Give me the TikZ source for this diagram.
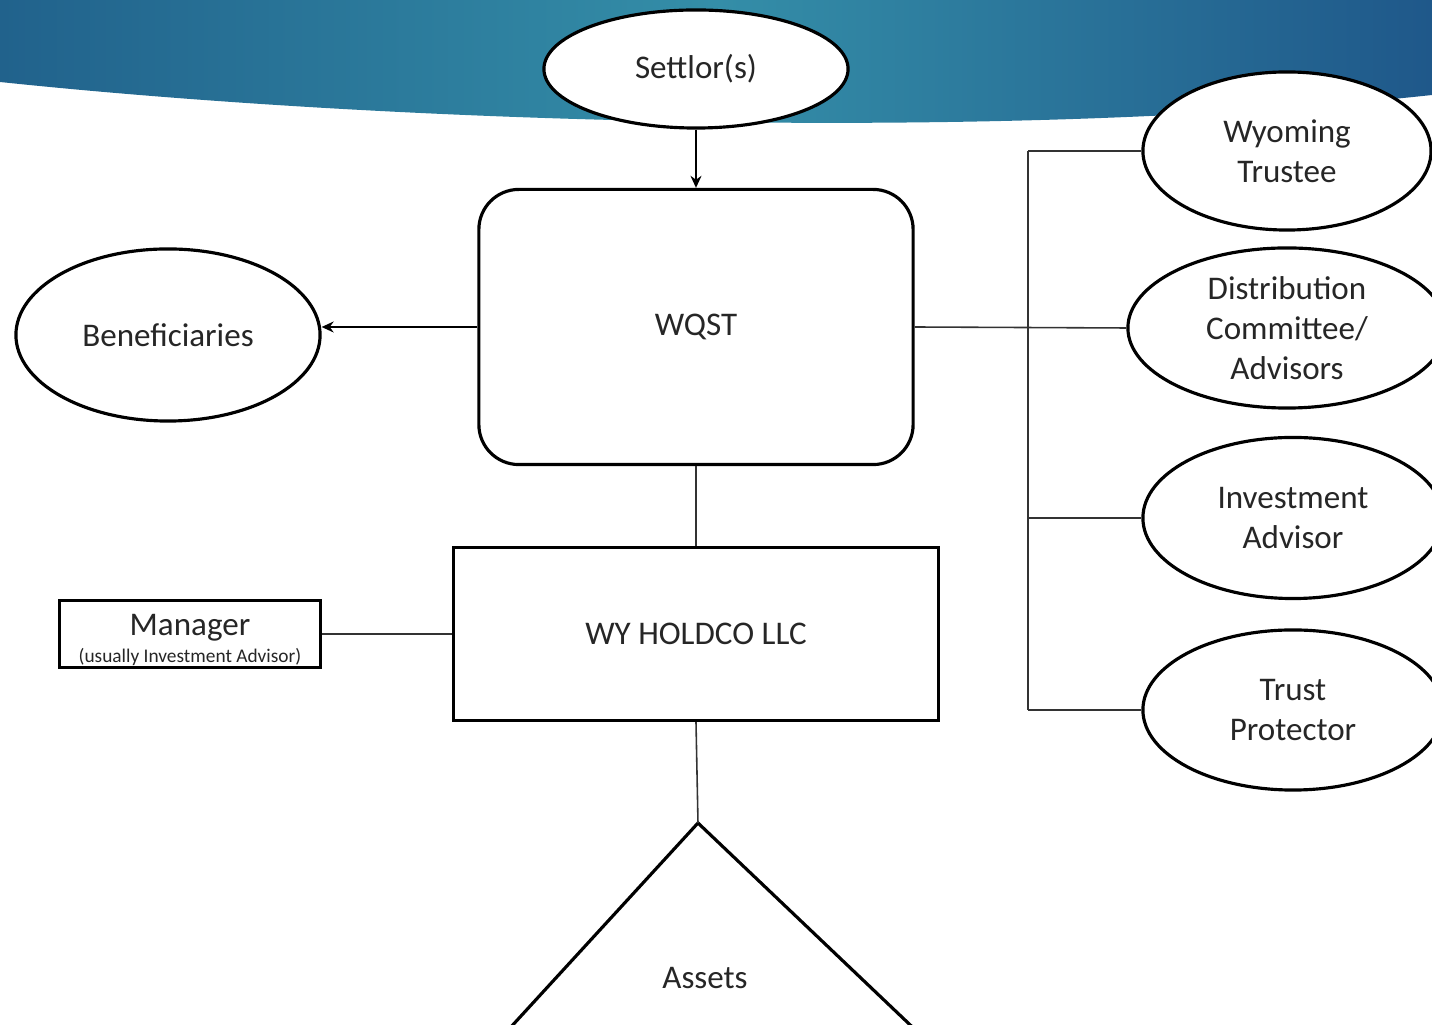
\documentclass[tikz,border=0pt]{standalone}
\usepackage{fontspec}
\setmainfont{Carlito}
\definecolor{bandleft}{RGB}{33, 98, 140}
\definecolor{bandmid}{RGB}{52, 142, 168}
\definecolor{bandright}{RGB}{31, 88, 138}
\definecolor{inkgray}{RGB}{38, 38, 38}
\usetikzlibrary{arrows.meta, shapes.geometric, calc}
\tikzset{
	oval/.style={ellipse, draw=black, fill=white, line width=0.9pt, inner sep=0pt, align=center, text=inkgray, font=\fontsize{9.4}{11.4}\selectfont},
	roundbox/.style={rectangle, rounded corners=0.4cm, draw=black, fill=white, line width=0.9pt, inner sep=0pt, align=center, text=inkgray, font=\fontsize{9.4}{11.4}\selectfont},
	plainbox/.style={rectangle, draw=black, fill=white, line width=0.9pt, inner sep=0pt, align=center, text=inkgray, font=\fontsize{9.4}{11.4}\selectfont},
	label/.style={inner sep=0pt, text=inkgray, font=\fontsize{9.4}{11.4}\selectfont},
	link/.style={line width=0.45pt, draw=black!80},
	arrow/.style={-{Stealth[length=1.2mm, width=1.1mm]}, line width=0.45pt, draw=black},
}

\begin{document}
\begin{tikzpicture}[x=0.01cm, y=-0.01cm]
	\useasboundingbox (0,0) rectangle (1432,1025);
	\clip (0,0) rectangle (1432,1025);
	% header band
	\shade[left color=bandleft, right color=bandright, middle color=bandmid]
		(0,0) -- (0,82) .. controls (400,124) and (1000,142) .. (1432,95) -- (1432,0) -- cycle;

	\node[oval, minimum width=3.04cm, minimum height=1.18cm] (settlor) at (696,69) {Settlor(s)};
	\node[roundbox, minimum width=4.34cm, minimum height=2.75cm] (wqst) at (696,327) {WQST};
	\node[oval, minimum width=3.04cm, minimum height=1.72cm] (ben) at (168,335) {Beneficiaries};
	\node[plainbox, minimum width=4.84cm, minimum height=1.73cm] (holdco) at (696,634) {WY HOLDCO LLC};
	\node[plainbox, minimum width=2.61cm, minimum height=0.67cm] (mgr) at (190,634)
		{\rule{0pt}{9.3pt}Manager\\[-3.8pt]{\fontsize{5.5}{6}\selectfont(usually Investment Advisor)}};

	\node[oval, minimum width=2.88cm, minimum height=1.58cm] (wyo) at (1287,151) {Wyoming\\Trustee};
	\node[oval, minimum width=3.18cm, minimum height=1.60cm] (dist) at (1287,328) {Distribution\\Committee/\\Advisors};
	\node[oval, minimum width=3.00cm, minimum height=1.61cm] (inv) at (1293,518) {Investment\\Advisor};
	\node[oval, minimum width=3.00cm, minimum height=1.60cm] (tp) at (1293,710) {Trust\\Protector};

	% assets triangle
	\coordinate (apex) at (698,823);
	\draw[line width=0.9pt] (499,1040) -- (apex) -- (926,1040);
	\node[label] (assets) at (705,978) {Assets};

	\draw[arrow] (settlor.south) -- (wqst.north);
	\draw[arrow] (wqst.west) -- (wqst.west -| ben.east);
	\draw[link] (wqst.south) -- (holdco.north);
	\draw[link] (mgr.east) -- (holdco.west);
	\draw[link] (holdco.south) -- (apex);

	% trustee side
	\coordinate (bus) at (1028,327);
	\draw[link] (wqst.east) -- (dist.west);
	\draw[link] (bus |- wyo.west) -- (bus |- tp.west);
	\foreach \n in {wyo,inv,tp}{\draw[link] (bus |- \n.west) -- (\n.west);}
\end{tikzpicture}
\end{document}
